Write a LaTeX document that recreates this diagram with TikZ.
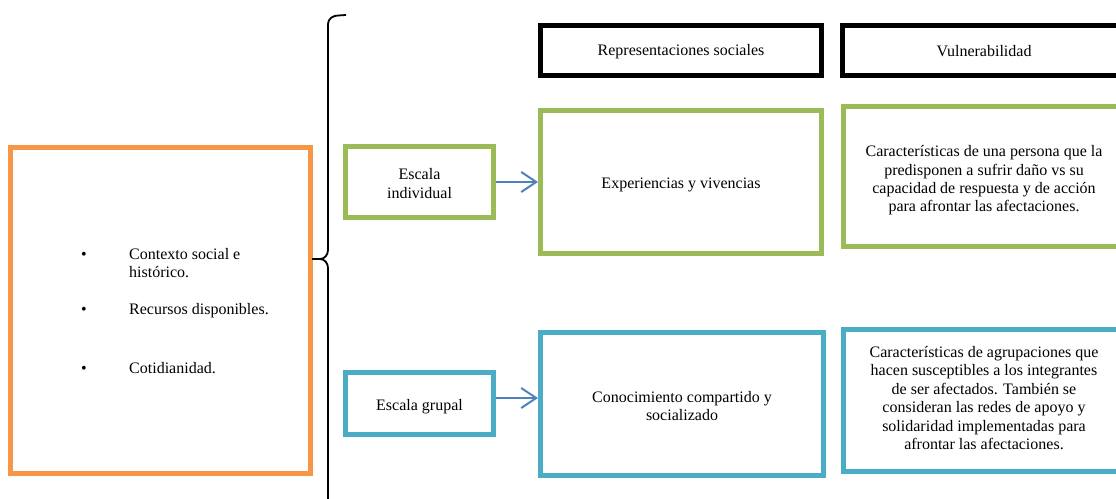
\documentclass[tikz,border=0pt]{standalone}
\usepackage{fontspec}
\setmainfont{Liberation Serif}
\usetikzlibrary{arrows.meta}
\definecolor{boxorange}{HTML}{F79646}
\definecolor{boxgreen}{HTML}{9BBB59}
\definecolor{boxblue}{HTML}{4BACC6}
\definecolor{arrowblue}{HTML}{4F81BD}
\begin{document}
\begin{tikzpicture}[x=1pt,y=-1pt,
  txt/.style={font=\fontsize{16}{18.4}\selectfont, text=black, align=center, inner sep=0pt},
  frame/.style={draw, line width=5pt, inner sep=0pt},
  headbox/.style={frame, draw=black, line width=5.5pt},
  greenbox/.style={frame, draw=boxgreen},
  bluebox/.style={frame, draw=boxblue},
  orangebox/.style={frame, draw=boxorange},
  flow/.style={draw=arrowblue, line width=2pt,
    -{Straight Barb[length=15pt,width=20pt,line width=2pt]}},
  bracket/.style={draw=black, line width=1.8pt, line join=round},
  item/.style={txt, anchor=base west},
  dot/.style={txt, anchor=base}
]
\useasboundingbox (0,0) rectangle (1116,498);

% left context box with its bullet list
\node[orangebox, minimum width=300pt, minimum height=326pt] (ctx) at (160.5,310.5) {};
\node[dot]  (b1) at (84,259) {•};
\node[item] (i1) at (129,259) {Contexto social e};
\node[item] (i1b) at (129,277.5) {histórico.};
\node[dot]  (b2) at (84,314) {•};
\node[item] (i2) at (129,314) {Recursos disponibles.};
\node[dot]  (b3) at (84,373) {•};
\node[item] (i3) at (129,373) {Cotidianidad.};

% curly bracket
\draw[bracket] (346,15) -- (338,15.5) to[out=180,in=90] (328,24)
  -- (328,250) to[out=-90,in=0] (320,259) -- (312,259);
\draw[bracket] (312,259) -- (320,259) to[out=0,in=90] (328,268) -- (328,510);

% column headers
\node[headbox, minimum width=281pt, minimum height=50pt] (hrep) at (681,50.5) {};
\node[txt] (hrept) at (681,51.5) {Representaciones sociales};
\node[headbox, minimum width=283pt, minimum height=50pt] (hvul) at (984,50.5) {};
\node[txt] (hvult) at (984,51.5) {Vulnerabilidad};

% individual scale row
\node[greenbox, minimum width=148pt, minimum height=71pt] (ind) at (419.5,182) {};
\node[txt] (indt) at (419.5,183.5) {Escala\\individual};
\node[greenbox, minimum width=281pt, minimum height=143pt] (exp) at (681,182) {};
\node[txt] (expt) at (681,185) {Experiencias y vivencias};
\node[greenbox, minimum width=281pt, minimum height=140pt] (vind) at (984,176.5) {};
\node[txt] (vindt) at (984,180.5) {Características de una persona que la\\predisponen a sufrir daño vs su\\capacidad de respuesta y de acción\\para afrontar las afectaciones.};

% group scale row
\node[bluebox, minimum width=148pt, minimum height=62pt] (grp) at (419.5,403.5) {};
\node[txt] (grpt) at (419.5,406.5) {Escala grupal};
\node[bluebox, minimum width=283pt, minimum height=143pt] (con) at (682,404) {};
\node[txt] (cont) at (682,406) {Conocimiento compartido y\\socializado};
\node[bluebox, minimum width=281pt, minimum height=142pt] (vgrp) at (984,400.5) {};
\node[txt] (vgrpt) at (984,398) {Características de agrupaciones que\\hacen susceptibles a los integrantes\\de ser afectados. También se\\consideran las redes de apoyo y\\solidaridad implementadas para\\afrontar las afectaciones.};

% arrows
\draw[flow] (ind.east) -- (exp.west |- ind.east);
\draw[flow] (grp.east |- 0,398) -- (con.west |- 0,398);
\end{tikzpicture}
\end{document}
